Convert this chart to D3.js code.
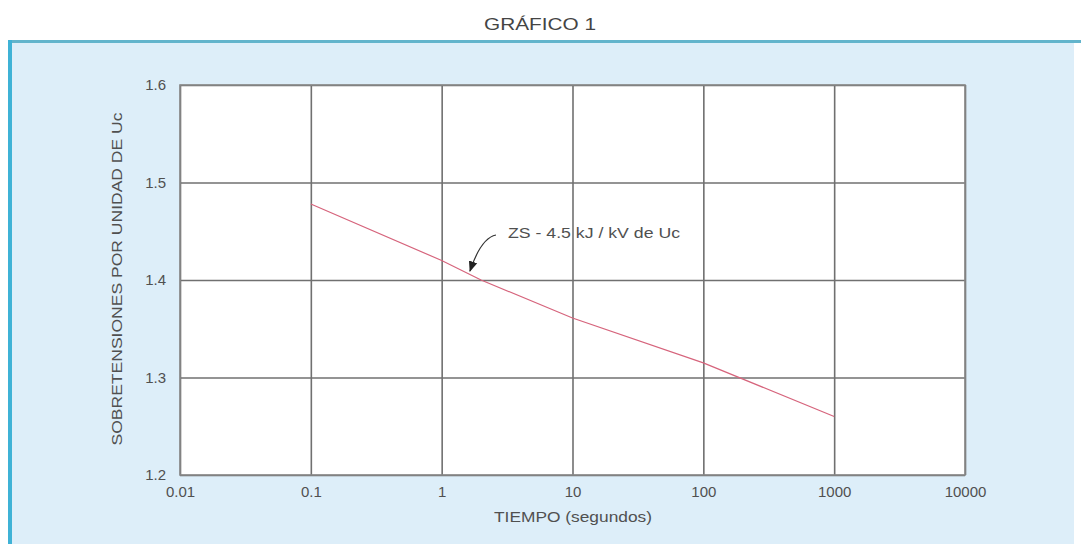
<!DOCTYPE html>
<html><head><meta charset="utf-8">
<script src="https://cdn.jsdelivr.net/npm/d3@7"></script>
<style>body{margin:0;background:#fff;}svg{display:block;font-family:"Liberation Sans",Arial,sans-serif;}</style>
</head><body>
<svg id="c" width="1081" height="544"></svg>
<script>
const title = "GRÁFICO 1";
const xTicks = [0.01, 0.1, 1, 10, 100, 1000, 10000];
const xTickLabels = ["0.01", "0.1", "1", "10", "100", "1000", "10000"];
const yTicks = [1.2, 1.3, 1.4, 1.5, 1.6];
const yTickLabels = ["1.2", "1.3", "1.4", "1.5", "1.6"];
const tiempo = [0.1, 1, 2, 10, 100, 1000];
const sobretension = [1.478, 1.42, 1.40, 1.361, 1.315, 1.26];
const seriesLabel = "ZS - 4.5 kJ / kV de Uc";
const xLabel = "TIEMPO (segundos)";
const yLabel = "SOBRETENSIONES POR UNIDAD DE Uc";

const svg = d3.select("#c");
const L = 180, R = 965, T = 85, B = 475;
const x = d3.scaleLog().domain([0.01, 10000]).range([L, R]);
const y = d3.scaleLinear().domain([1.2, 1.6]).range([B, T]);
const txt = "#505050";

svg.append("text").attr("x", 540).attr("y", 30).attr("text-anchor", "middle")
  .attr("font-size", 17).attr("fill", "#444")
  .attr("textLength", 112).attr("lengthAdjust", "spacingAndGlyphs").text(title);

// panel
svg.append("rect").attr("x", 10).attr("y", 41).attr("width", 1064).attr("height", 503).attr("fill", "#ddeef9");
svg.append("line").attr("x1", 10).attr("x2", 1081).attr("y1", 41.5).attr("y2", 41.5)
  .attr("stroke", "#62b4cc").attr("stroke-width", 3);
svg.append("line").attr("x1", 10).attr("x2", 10).attr("y1", 40).attr("y2", 544)
  .attr("stroke", "#3fb2d6").attr("stroke-width", 4);

// plot background
svg.append("rect").attr("x", L).attr("y", T).attr("width", R - L).attr("height", B - T).attr("fill", "#fff");

// grid via axes
const gx = svg.append("g").attr("transform", `translate(0,${B})`)
  .call(d3.axisBottom(x).tickValues(xTicks).tickSize(-(B - T)).tickFormat((d, i) => xTickLabels[i]));
const gy = svg.append("g").attr("transform", `translate(${L},0)`)
  .call(d3.axisLeft(y).tickValues(yTicks).tickSize(-(R - L)).tickFormat((d, i) => yTickLabels[i]));
[gx, gy].forEach(g => {
  g.select(".domain").remove();
  g.selectAll(".tick line").attr("stroke", "#707070").attr("stroke-width", 1.6);
  g.selectAll(".tick text").attr("fill", txt).attr("font-size", 15).attr("font-family", "Liberation Sans, Arial, sans-serif");
});
gx.selectAll(".tick text").attr("dy", "0.71em").attr("y", 11);
gy.selectAll(".tick text").attr("x", -14);

svg.append("rect").attr("x", L).attr("y", T).attr("width", R - L).attr("height", B - T)
  .attr("fill", "none").attr("stroke", "#888").attr("stroke-width", 1.6);

// series
svg.append("path").datum(tiempo.map((t, i) => [t, sobretension[i]]))
  .attr("fill", "none").attr("stroke", "#d6647c").attr("stroke-width", 1.2)
  .attr("d", d3.line().x(d => x(d[0])).y(d => y(d[1])));

// annotation
svg.append("defs").append("marker").attr("id", "ah").attr("viewBox", "0 0 10 10")
  .attr("refX", 9).attr("refY", 5).attr("markerWidth", 9).attr("markerHeight", 9).attr("orient", "auto")
  .append("path").attr("d", "M0,1 L10,5 L0,9 Z").attr("fill", "#222");
svg.append("path").attr("d", "M496,235 Q481,238 470,271").attr("fill", "none")
  .attr("stroke", "#333").attr("stroke-width", 1.2).attr("marker-end", "url(#ah)");
svg.append("text").attr("x", 508).attr("y", 238).attr("font-size", 14.5).attr("fill", txt)
  .attr("textLength", 172).attr("lengthAdjust", "spacingAndGlyphs").text(seriesLabel);

// axis labels
svg.append("text").attr("x", 573).attr("y", 522).attr("text-anchor", "middle")
  .attr("font-size", 15).attr("fill", txt)
  .attr("textLength", 158).attr("lengthAdjust", "spacingAndGlyphs").text(xLabel);
svg.append("text").attr("transform", "translate(122,279) rotate(-90)").attr("text-anchor", "middle")
  .attr("font-size", 14).attr("fill", txt)
  .attr("textLength", 333).attr("lengthAdjust", "spacingAndGlyphs").text(yLabel);
</script>
</body></html>
